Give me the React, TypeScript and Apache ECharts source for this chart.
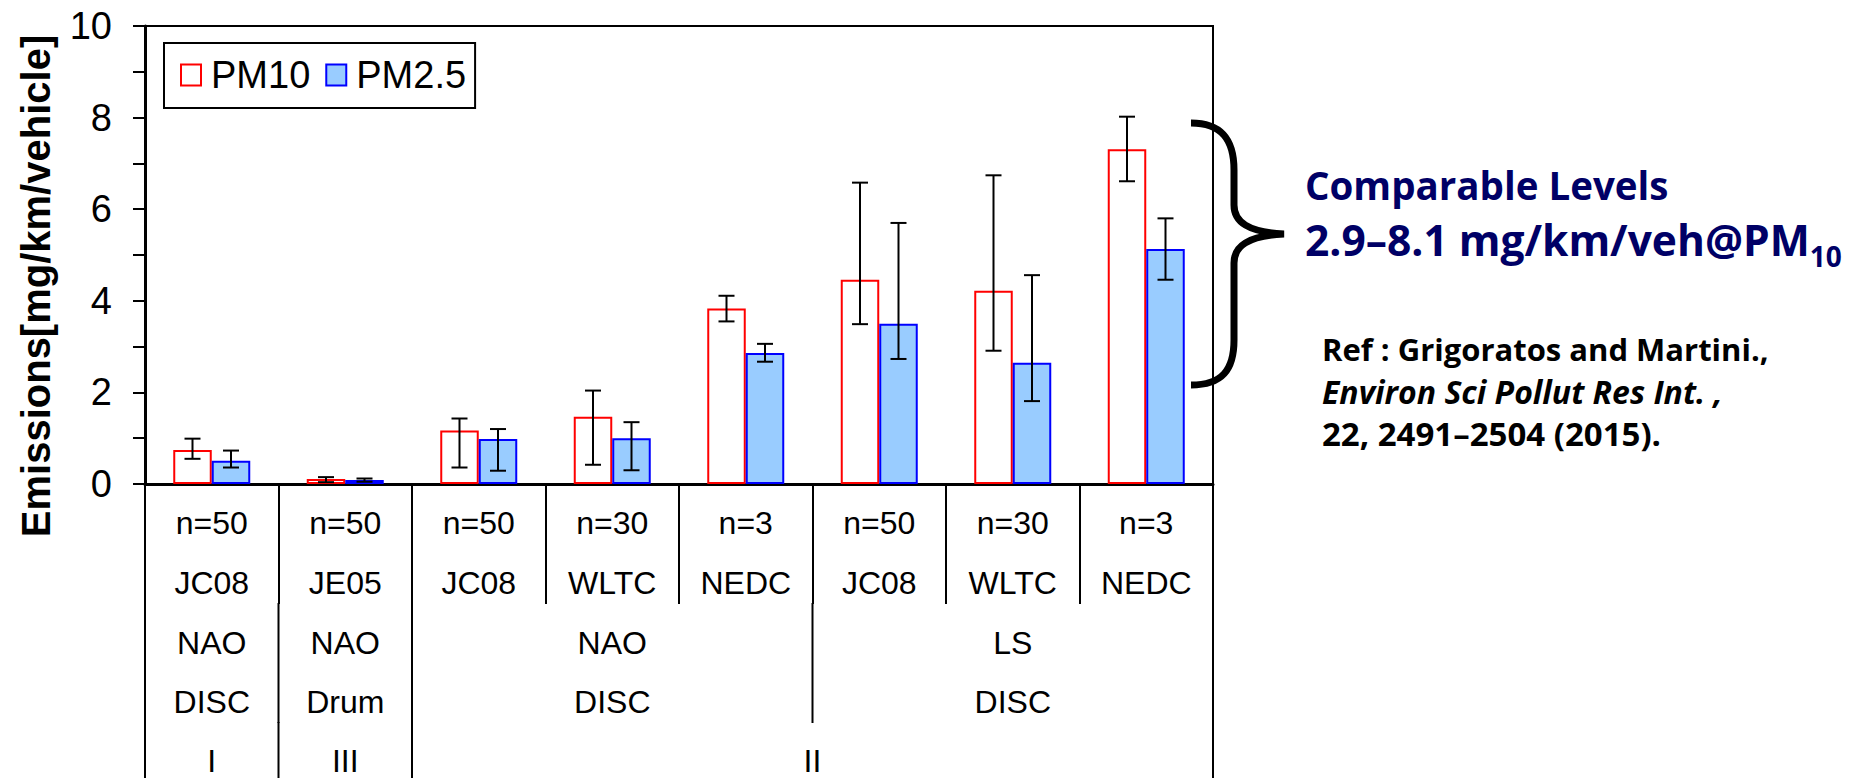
import React, { useEffect, useRef } from 'react';
import * as echarts from 'echarts';

// ---------- data ----------
const categories = ['I-NAO-JC08', 'III-NAO-JE05', 'II-NAO-JC08', 'II-NAO-WLTC', 'II-NAO-NEDC', 'II-LS-JC08', 'II-LS-WLTC', 'II-LS-NEDC'];
const sampleSizes = ['n=50', 'n=50', 'n=50', 'n=30', 'n=3', 'n=50', 'n=30', 'n=3'];
const cycles = ['JC08', 'JE05', 'JC08', 'WLTC', 'NEDC', 'JC08', 'WLTC', 'NEDC'];

const pm10 = [0.74, 0.11, 1.17, 1.47, 3.83, 4.46, 4.22, 7.31];
const pm10Low = [0.55, 0.04, 0.36, 0.42, 3.55, 3.49, 2.91, 6.61];
const pm10High = [0.99, 0.15, 1.43, 2.04, 4.11, 6.58, 6.74, 8.02];

const pm25 = [0.51, 0.09, 0.98, 1.0, 2.86, 3.5, 2.65, 5.13];
const pm25Low = [0.36, 0.05, 0.29, 0.3, 2.67, 2.73, 1.81, 4.46];
const pm25High = [0.73, 0.12, 1.2, 1.35, 3.06, 5.7, 4.56, 5.8];

const materialGroups = [
  { from: 0, to: 1, pad: 'NAO', brake: 'DISC' },
  { from: 1, to: 2, pad: 'NAO', brake: 'Drum' },
  { from: 2, to: 5, pad: 'NAO', brake: 'DISC' },
  { from: 5, to: 8, pad: 'LS', brake: 'DISC' },
];
const classGroups = [
  { from: 0, to: 1, label: 'I' },
  { from: 1, to: 2, label: 'III' },
  { from: 2, to: 8, label: 'II' },
];

const yTitle = 'Emissions[mg/km/vehicle]';
const noteLine1 = 'Comparable Levels';
const noteLine2 = '2.9–8.1 mg/km/veh@PM';
const noteSub = '10';
const refLines = ['Ref : Grigoratos and Martini.,', 'Environ Sci Pollut Res Int. ,', '22, 2491–2504 (2015).'];

// ---------- style ----------
const ARIAL = '"Liberation Sans", Arial, Helvetica, sans-serif';
const CAL = '"Open Sans", Lato, sans-serif';
const NAVY = '#000066';
const BAR_W = 38.5;
const BRACE_D =
  'M 1191 123 C 1222 123 1234 140 1234 170 L 1234 205 C 1234 222 1248 232 1284 234 C 1248 236 1234 246 1234 263 L 1234 340 C 1234 370 1222 385 1191 385';

function errorSeries(name: string, low: number[], high: number[], offset: number) {
  return {
    name,
    type: 'custom',
    z: 5,
    data: low.map((l, i) => [i, l, high[i]]),
    encode: { x: 0, y: [1, 2] },
    renderItem: (_p: any, api: any) => {
      const i = api.value(0);
      const top = api.coord([i, api.value(2)]);
      const bot = api.coord([i, api.value(1)]);
      const x = top[0] + offset;
      const st = { stroke: '#000', lineWidth: 2 };
      return {
        type: 'group',
        children: [
          { type: 'line', shape: { x1: x, y1: top[1], x2: x, y2: bot[1] }, style: st },
          { type: 'line', shape: { x1: x - 8, y1: top[1], x2: x + 8, y2: top[1] }, style: st },
          { type: 'line', shape: { x1: x - 8, y1: bot[1], x2: x + 8, y2: bot[1] }, style: st },
        ],
      };
    },
  };
}

export default function App() {
  const ref = useRef<HTMLDivElement>(null);
  useEffect(() => {
    document.body.style.margin = '0';
    document.body.style.overflow = 'hidden';
    echarts.graphic.registerShape('brace', echarts.graphic.extendPath(BRACE_D, {}));
    const chart = echarts.init(ref.current!, null, { renderer: 'svg', width: 1861, height: 778 });
    const option: any = {
      animation: false,
      backgroundColor: '#fff',
      grid: { left: 145, top: 26, width: 1068, height: 458, show: true, borderColor: '#000', borderWidth: 2 },
      legend: {
        left: 164,
        top: 43,
        padding: [13, 9, 14, 16],
        itemGap: 15,
        itemWidth: 20,
        itemHeight: 21,
        borderColor: '#000',
        borderWidth: 2,
        icon: 'rect',
        textStyle: { fontSize: 38, fontFamily: ARIAL, color: '#000', padding: [0, 0, 0, 5] },
        data: [
          { name: 'PM10', itemStyle: { color: '#fff', borderColor: '#ff0000', borderWidth: 2 } },
          { name: 'PM2.5', itemStyle: { color: '#99ccff', borderColor: '#0000ff', borderWidth: 2 } },
        ],
      },
      xAxis: {
        type: 'category',
        data: categories,
        boundaryGap: true,
        axisLine: { show: true, lineStyle: { color: '#000', width: 3 } },
        axisTick: { show: true, interval: 0, length: 120, lineStyle: { color: '#000', width: 2 } },
        axisLabel: {
          interval: 0,
          margin: 9,
          fontSize: 32,
          lineHeight: 60,
          fontFamily: ARIAL,
          color: '#000',
          formatter: (_v: string, i: number) => `${sampleSizes[i]}\n${cycles[i]}`,
        },
        splitLine: { show: false },
      },
      yAxis: {
        type: 'value',
        min: 0,
        max: 10,
        interval: 1,
        axisLine: { show: true, lineStyle: { color: '#000', width: 3 } },
        axisTick: { show: true, length: 12, lineStyle: { color: '#000', width: 2 } },
        axisLabel: {
          margin: 33,
          fontSize: 38,
          fontFamily: ARIAL,
          color: '#000',
          formatter: (v: number) => (v % 2 === 0 ? String(v) : ''),
        },
        splitLine: { show: false },
      },
      series: [
        {
          name: 'PM10',
          type: 'bar',
          data: pm10,
          barWidth: BAR_W,
          barGap: '0%',
          itemStyle: { color: '#fff', borderColor: '#ff0000', borderWidth: 2 },
        },
        {
          name: 'PM2.5',
          type: 'bar',
          data: pm25,
          barWidth: BAR_W,
          barGap: '0%',
          itemStyle: { color: '#99ccff', borderColor: '#0000ff', borderWidth: 2 },
        },
        errorSeries('PM10 error', pm10Low, pm10High, -BAR_W / 2),
        errorSeries('PM2.5 error', pm25Low, pm25High, BAR_W / 2),
      ],
    };
    chart.setOption(option);

    const c0 = chart.convertToPixel({ xAxisIndex: 0 }, categories[0]) as number;
    const c1 = chart.convertToPixel({ xAxisIndex: 0 }, categories[1]) as number;
    const bw = c1 - c0;
    const bx = (b: number) => c0 + (b - 0.5) * bw;

    const ROW1_BOTTOM = 604;
    const ROW2_BOTTOM = 723;
    const PAGE_BOTTOM = 778;
    const lineSt = { stroke: '#000', lineWidth: 2 };
    const g: any[] = [];

    const matB = Array.from(new Set(materialGroups.flatMap((m) => [m.from, m.to])));
    matB.forEach((b) =>
      g.push({ type: 'line', shape: { x1: bx(b), y1: ROW1_BOTTOM - 1, x2: bx(b), y2: ROW2_BOTTOM }, style: lineSt })
    );
    const clsB = Array.from(new Set(classGroups.flatMap((m) => [m.from, m.to])));
    clsB.forEach((b) =>
      g.push({ type: 'line', shape: { x1: bx(b), y1: ROW2_BOTTOM - 1, x2: bx(b), y2: PAGE_BOTTOM }, style: lineSt })
    );
    const tStyle = (text: string, x: number, y: number) => ({
      type: 'text',
      x,
      y,
      style: { text, fontSize: 32, fontFamily: ARIAL, fill: '#000', align: 'center', verticalAlign: 'middle' },
    });
    materialGroups.forEach((m) => {
      const cx = bx((m.from + m.to) / 2);
      g.push(tStyle(m.pad, cx, 643));
      g.push(tStyle(m.brake, cx, 702));
    });
    classGroups.forEach((m) => {
      g.push(tStyle(m.label, bx((m.from + m.to) / 2), 761));
    });

    // y axis title
    g.push({
      type: 'text',
      x: 36,
      y: 286,
      rotation: Math.PI / 2,
      style: {
        text: yTitle,
        fontSize: 40,
        fontWeight: 'bold',
        fontFamily: ARIAL,
        fill: '#000',
        align: 'center',
        verticalAlign: 'middle',
      },
    });

    // brace
    g.push({ type: 'brace', x: 0, y: 0, style: { fill: 'none', stroke: '#000', lineWidth: 7, lineCap: 'butt' } });

    // note
    g.push({
      type: 'text',
      x: 1305,
      y: 185,
      style: { text: noteLine1, fontSize: 38.5, fontWeight: 'bold', fontFamily: CAL, fill: NAVY, verticalAlign: 'middle' },
    });
    g.push({
      type: 'text',
      x: 1305,
      y: 218,
      style: {
        text: `{m|${noteLine2}}{s|${noteSub}}`,
        verticalAlign: 'top',
        rich: {
          m: { fontSize: 42.5, fontWeight: 'bold', fontFamily: CAL, fill: NAVY, verticalAlign: 'top', lineHeight: 42 },
          s: { fontSize: 28, fontWeight: 'bold', fontFamily: CAL, fill: NAVY, verticalAlign: 'top', lineHeight: 28, padding: [24, 0, 0, 0] },
        },
      },
    });
    const refY = [349, 391, 433];
    const refSizes = [31, 32, 33];
    refLines.forEach((t, i) =>
      g.push({
        type: 'text',
        x: 1322,
        y: refY[i],
        style: {
          text: t,
          fontSize: refSizes[i],
          fontWeight: 'bold',
          fontStyle: i === 1 ? 'italic' : 'normal',
          fontFamily: CAL,
          fill: '#000',
          verticalAlign: 'middle',
        },
      })
    );

    chart.setOption({ graphic: g });
    return () => chart.dispose();
  }, []);
  return <div ref={ref} style={{ width: 1861, height: 778 }} />;
}
